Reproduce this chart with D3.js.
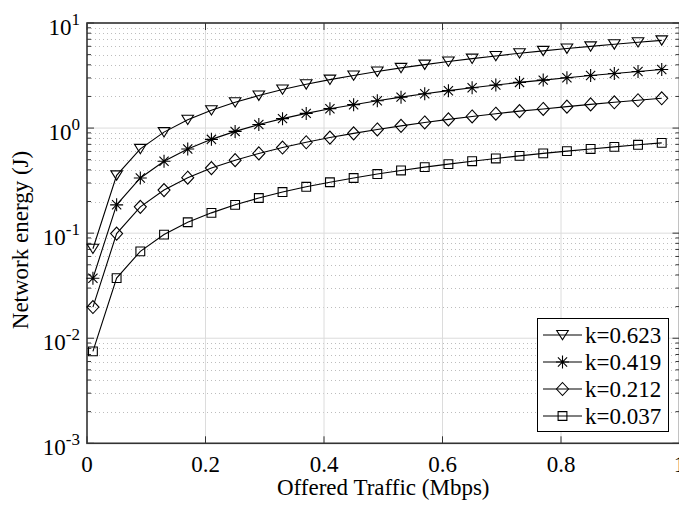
<!DOCTYPE html>
<html>
<head>
<meta charset="utf-8">
<script src="https://cdn.jsdelivr.net/npm/d3@7/dist/d3.min.js"></script>
<style>
  body { margin: 0; background: #fff; }
  text { font-family: "Liberation Serif", "Times New Roman", serif; fill: #000; }
</style>
</head>
<body>
<div id="chart"></div>
<script>
// Offered traffic (Mbps), x position of every marker
const traffic = [0.01, 0.05, 0.09, 0.13, 0.17, 0.21, 0.25, 0.29, 0.33, 0.37, 0.41, 0.45, 0.49,
  0.53, 0.57, 0.61, 0.65, 0.69, 0.73, 0.77, 0.81, 0.85, 0.89, 0.93, 0.97]

// Network energy (J)
const energyK623 = [0.071, 0.355, 0.634, 0.915, 1.20, 1.48, 1.76, 2.04, 2.33, 2.61, 2.89, 3.17, 3.45,
  3.74, 4.02, 4.30, 4.58, 4.86, 5.15, 5.43, 5.71, 5.99, 6.27, 6.56, 6.84]
const energyK419 = [0.0372, 0.186, 0.335, 0.484, 0.632, 0.781, 0.930, 1.08, 1.23, 1.38, 1.53, 1.67, 1.82,
  1.97, 2.12, 2.27, 2.42, 2.57, 2.72, 2.86, 3.01, 3.16, 3.31, 3.46, 3.61]
const energyK212 = [0.0198, 0.099, 0.178, 0.257, 0.337, 0.416, 0.495, 0.574, 0.653, 0.733, 0.812, 0.891, 0.970,
  1.05, 1.13, 1.21, 1.29, 1.37, 1.45, 1.52, 1.60, 1.68, 1.76, 1.84, 1.92]
const energyK037 = [0.00750, 0.0373, 0.0671, 0.0969, 0.127, 0.156, 0.186, 0.216, 0.246, 0.276, 0.305, 0.335, 0.365,
  0.395, 0.425, 0.454, 0.484, 0.514, 0.544, 0.574, 0.603, 0.633, 0.663, 0.693, 0.723]

const seriesLabels = ['k=0.623', 'k=0.419', 'k=0.212', 'k=0.037']
const seriesMarkers = ['triangle', 'star', 'diamond', 'square']
const seriesValues = [energyK623, energyK419, energyK212, energyK037]

const xTicks = [0, 0.2, 0.4, 0.6, 0.8, 1]
const xTickLabels = ['0', '0.2', '0.4', '0.6', '0.8', '1']
const yDecades = [-3, -2, -1, 0, 1]

const xLabel = 'Offered Traffic (Mbps)'
const yLabel = 'Network energy (J)'

const width = 679
const height = 506
const margin = { left: 87, top: 23, right: 679.5, bottom: 443.3 }

const x = d3.scaleLinear().domain([0, 1]).range([margin.left, margin.right])
const y = d3.scaleLog().domain([1e-3, 10]).range([margin.bottom, margin.top])

const svg = d3.select('#chart').append('svg')
  .attr('width', width)
  .attr('height', height)
  .style('display', 'block')

svg.append('rect')
  .attr('x', margin.left).attr('y', margin.top)
  .attr('width', margin.right - margin.left)
  .attr('height', margin.bottom - margin.top)
  .attr('fill', '#fff')

// minor grid (dotted) at 2..9 x 10^k
const minorValues = []
yDecades.slice(0, -1).forEach(e => {
  for (let m = 2; m <= 9; m++) minorValues.push(m * Math.pow(10, e))
})

svg.append('g').selectAll('line')
  .data(minorValues)
  .join('line')
  .attr('x1', margin.left).attr('x2', margin.right)
  .attr('y1', d => Math.round(y(d)) + 0.5).attr('y2', d => Math.round(y(d)) + 0.5)
  .attr('stroke', '#bdbdbd')
  .attr('stroke-width', 1)
  .attr('stroke-dasharray', '1,3')

// major grid
svg.append('g').selectAll('line')
  .data(yDecades.map(e => Math.pow(10, e)))
  .join('line')
  .attr('x1', margin.left).attr('x2', margin.right)
  .attr('y1', d => y(d)).attr('y2', d => y(d))
  .attr('stroke', '#dcdcdc')
  .attr('stroke-width', 1)

svg.append('g').selectAll('line')
  .data(xTicks.slice(1, -1))
  .join('line')
  .attr('x1', d => x(d)).attr('x2', d => x(d))
  .attr('y1', margin.top).attr('y2', margin.bottom)
  .attr('stroke', '#dcdcdc')
  .attr('stroke-width', 1)

// axis ticks, pointing inwards on all four sides
const frame = svg.append('g').attr('stroke', '#333').attr('stroke-width', 1)

xTicks.forEach(t => {
  frame.append('line').attr('x1', x(t)).attr('x2', x(t)).attr('y1', margin.bottom).attr('y2', margin.bottom - 7)
  frame.append('line').attr('x1', x(t)).attr('x2', x(t)).attr('y1', margin.top).attr('y2', margin.top + 7)
})
yDecades.forEach(e => {
  const yy = y(Math.pow(10, e))
  frame.append('line').attr('x1', margin.left).attr('x2', margin.left + 7).attr('y1', yy).attr('y2', yy)
  frame.append('line').attr('x1', margin.right).attr('x2', margin.right - 7).attr('y1', yy).attr('y2', yy)
})
minorValues.forEach(v => {
  const yy = y(v)
  frame.append('line').attr('x1', margin.left).attr('x2', margin.left + 4).attr('y1', yy).attr('y2', yy)
  frame.append('line').attr('x1', margin.right).attr('x2', margin.right - 4).attr('y1', yy).attr('y2', yy)
})

svg.append('rect')
  .attr('x', margin.left).attr('y', margin.top)
  .attr('width', margin.right - margin.left)
  .attr('height', margin.bottom - margin.top)
  .attr('fill', 'none')
  .attr('stroke', '#333')
  .attr('stroke-width', 1.6)

// tick labels
svg.append('g').selectAll('text')
  .data(xTicks)
  .join('text')
  .attr('x', d => x(d))
  .attr('y', 471.5)
  .attr('text-anchor', 'middle')
  .attr('font-size', '23px')
  .text((d, i) => xTickLabels[i])

const yLabels = svg.append('g').selectAll('text')
  .data(yDecades)
  .join('text')
  .attr('x', 80)
  .attr('y', d => y(Math.pow(10, d)) + 11.5)
  .attr('text-anchor', 'end')
  .attr('font-size', '23px')
yLabels.append('tspan').text('10')
yLabels.append('tspan')
  .attr('font-size', '17px')
  .attr('dy', -10)
  .text(d => String(d))

// axis titles
svg.append('text')
  .attr('x', (margin.left + margin.right) / 2)
  .attr('y', 495)
  .attr('text-anchor', 'middle')
  .attr('font-size', '23px')
  .text(xLabel)

svg.append('text')
  .attr('transform', 'translate(28, 240) rotate(-90)')
  .attr('text-anchor', 'middle')
  .attr('font-size', '23px')
  .text(yLabel)

// marker shapes
function markerPath(type) {
  switch (type) {
    case 'triangle': return 'M-5.8,-4.5L5.8,-4.5L0,4.8Z'
    case 'star': return 'M-6.5,0L6.5,0M0,-6.5L0,6.5M-4.6,-4.6L4.6,4.6M-4.6,4.6L4.6,-4.6'
    case 'diamond': return 'M0,-6.5L6,0L0,6.5L-6,0Z'
    case 'square': return 'M-4.4,-4.4L4.4,-4.4L4.4,4.4L-4.4,4.4Z'
  }
}

const line = d3.line()
  .x(d => x(d[0]))
  .y(d => y(d[1]))

seriesValues.forEach((vals, si) => {
  const pts = traffic.map((t, i) => [t, vals[i]])
  svg.append('path')
    .datum(pts)
    .attr('fill', 'none')
    .attr('stroke', '#000')
    .attr('stroke-width', 1.1)
    .attr('d', line)

  svg.append('g').selectAll('path')
    .data(pts)
    .join('path')
    .attr('transform', d => `translate(${x(d[0])},${y(d[1])})`)
    .attr('d', markerPath(seriesMarkers[si]))
    .attr('fill', 'none')
    .attr('stroke', '#000')
    .attr('stroke-width', 1.1)
})

// legend
const legend = svg.append('g')
legend.append('rect')
  .attr('x', 537.5).attr('y', 318.5)
  .attr('width', 131).attr('height', 113)
  .attr('fill', '#fff')
  .attr('stroke', '#000')
  .attr('stroke-width', 1)

seriesLabels.forEach((label, i) => {
  const ly = 335 + i * 27
  legend.append('line')
    .attr('x1', 543).attr('x2', 582)
    .attr('y1', ly).attr('y2', ly)
    .attr('stroke', '#000').attr('stroke-width', 1.1)
  legend.append('path')
    .attr('transform', `translate(562.5,${ly})`)
    .attr('d', markerPath(seriesMarkers[i]))
    .attr('fill', 'none')
    .attr('stroke', '#000')
    .attr('stroke-width', 1.1)
  legend.append('text')
    .attr('x', 585)
    .attr('y', ly + 8)
    .attr('font-size', '23px')
    .text(label)
})
</script>
</body>
</html>
